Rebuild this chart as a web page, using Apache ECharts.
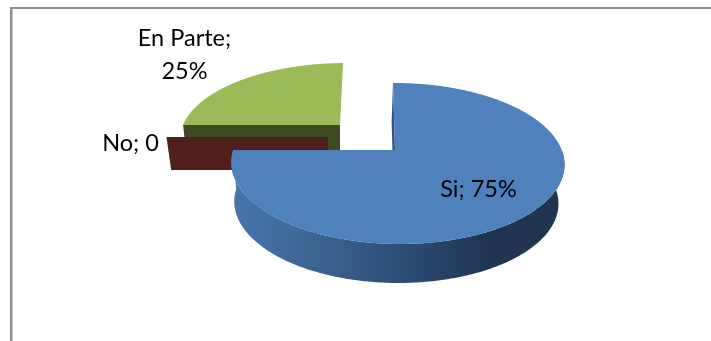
<!DOCTYPE html>
<html>
<head>
<meta charset="utf-8">
<style>html,body{margin:0;padding:0;background:#fff}#c{width:711px;height:341px}#c canvas{filter:blur(0.45px)}</style>
<script src="https://cdn.jsdelivr.net/npm/echarts@6/dist/echarts.min.js"></script>
</head>
<body>
<div id="c"></div>
<script>
const categories = ['Si', 'No', 'En Parte'];
const values = [75, 0, 25];
const labelTexts = ['Si; 75%', 'No; 0', 'En Parte;\n25%'];

// Appearance and projection of the 3D pie (no data here)
const topColors = ['#4f81bd', '#4f1f1c', '#9bbb59'];
const wallColors = ['#34557f', '#4f1f1c', '#3f4a23'];
const apexX = [395, 328, 340];
const apexY = [150, 137, 125];
const scaleX = [1, 0.9985, 0.97];
const scaleY = [1, 1, 0.925];
const shear = [-2, 0, 3];
const depth = [39, 33, 38];
const drawOrder = [3, 2, 1];
const labelX = [478.5, 130.5, 184.5];
const labelY = [189, 143, 55];
const RX = 164.2, RY = 78.2, K = 0.1677, M = 0.015, VANISH_X = 342, VANISH_S = 0.973;

const total = values.reduce((a, b) => a + b, 0);

function pt(i, theta, r, z) {
  const u = Math.sin(theta) * r, v = Math.cos(theta) * r;
  const w = 1 + K * v - M * u;
  let x = apexX[i] + scaleX[i] * RX * u / w + shear[i] * v;
  const y = apexY[i] - scaleY[i] * RY * v / w + z * depth[i];
  if (z) x = VANISH_X + (x - VANISH_X) * VANISH_S;
  return [x, y];
}
function arc(i, a0, a1, z) {
  const n = Math.max(2, Math.ceil(Math.abs(a1 - a0) / 0.01));
  const out = [];
  for (let j = 0; j <= n; j++) out.push(pt(i, a0 + (a1 - a0) * j / n, 1, z));
  return out;
}
const blueWall = new echarts.graphic.LinearGradient(233, 0, 558, 0, [
  { offset: 0, color: '#4675aa' },
  { offset: 0.2, color: '#3f6898' },
  { offset: 0.5, color: '#2f4f76' },
  { offset: 0.78, color: '#1f3552' },
  { offset: 1, color: '#20364f' }
], true);

function renderItem(params, api) {
  const i = params.dataIndex;
  const val = api.value(0);
  let cum = 0;
  for (let j = 0; j < i; j++) cum += values[j];
  const a0 = cum / total * 2 * Math.PI;
  const a1 = (cum + val) / total * 2 * Math.PI;
  const base = drawOrder[i] * 10;
  const children = [];
  const poly = (points, fill, z2) => children.push({
    type: 'polygon', shape: { points }, z2,
    style: { fill }
  });

  // only the leading cut face and the near half of the rim can be seen
  poly([pt(i, a0, 0, 0), pt(i, a0, 1, 0), pt(i, a0, 1, 1), pt(i, a0, 0, 1)], wallColors[i], base);
  const rim0 = Math.max(a0, Math.PI / 2), rim1 = Math.min(a1, 3 * Math.PI / 2);
  if (rim1 > rim0) {
    const wallFill = i === 0 ? blueWall : wallColors[i];
    poly(arc(i, rim0, rim1, 0).concat(arc(i, rim1, rim0, 1)), wallFill, base + 1);
  }
  if (a1 > a0) {
    poly([pt(i, 0, 0, 0)].concat(arc(i, a0, a1, 0)), topColors[i], base + 2);
  }
  children.push({
    type: 'text', z2: 100,
    style: {
      text: labelTexts[i], x: labelX[i], y: labelY[i],
      fill: '#000', font: '23.5px Lato', lineHeight: 33,
      align: 'center', verticalAlign: 'middle'
    }
  });
  return { type: 'group', children };
}

const chart = echarts.init(document.getElementById('c'), null, { width: 711, height: 341 });
chart.setOption({
  animation: false,
  backgroundColor: '#fff',
  graphic: [
    { type: 'rect', shape: { x: 10, y: 7, width: 701, height: 2 }, style: { fill: '#8c8c8c' } },
    { type: 'rect', shape: { x: 10, y: 7, width: 2.5, height: 334 }, style: { fill: '#8c8c8c' } }
  ],
  series: [{
    type: 'custom',
    coordinateSystem: 'none',
    renderItem,
    data: categories.map((name, i) => ({ name, value: [values[i]] }))
  }]
});
</script>
</body>
</html>
